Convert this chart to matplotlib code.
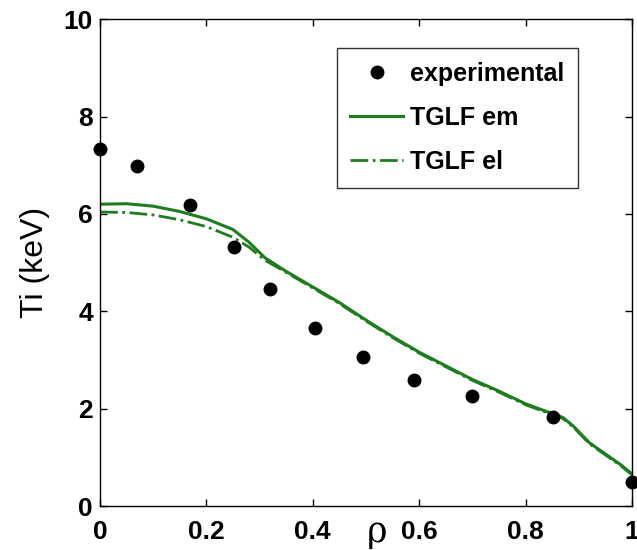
''' Ti PROFILE: EXPERIMENT VS TGLF '''

import matplotlib
matplotlib.use("Agg")
import matplotlib.pyplot as plt

plt.rcParams['font.family'] = ['Liberation Sans', 'DejaVu Sans']

# DATA
rho_exp = [0.0, 0.07, 0.169, 0.252, 0.32, 0.404, 0.494, 0.59, 0.70, 0.852, 1.0]
ti_exp = [7.33, 6.98, 6.18, 5.32, 4.46, 3.65, 3.06, 2.59, 2.26, 1.83, 0.49]

rho_em = [0.0, 0.05, 0.10, 0.15, 0.20, 0.25, 0.28, 0.31, 0.35, 0.40, 0.45, 0.50,
          0.55, 0.60, 0.65, 0.70, 0.75, 0.80, 0.85, 0.87, 0.89, 0.92, 0.95, 0.98, 1.0]
ti_em = [6.20, 6.21, 6.16, 6.05, 5.90, 5.68, 5.42, 5.10, 4.82, 4.50, 4.18, 3.82,
         3.48, 3.16, 2.88, 2.60, 2.36, 2.10, 1.90, 1.82, 1.64, 1.30, 1.07, 0.84, 0.66]

rho_el = [0.0, 0.05, 0.10, 0.15, 0.20, 0.25, 0.28, 0.31, 0.35, 0.40, 0.45, 0.50,
          0.55, 0.60, 0.65, 0.70, 0.75, 0.80, 0.85, 0.87, 0.89, 0.92, 0.95, 0.98, 1.0]
ti_el = [6.04, 6.03, 5.98, 5.88, 5.74, 5.52, 5.32, 5.05, 4.80, 4.48, 4.16, 3.80,
         3.46, 3.14, 2.86, 2.58, 2.34, 2.08, 1.88, 1.80, 1.62, 1.28, 1.05, 0.82, 0.64]

xticks = [0, 0.2, 0.4, 0.6, 0.8, 1]
xticklabels = ['0', '0.2', '0.4', '0.6', '0.8', '1']
yticks = [0, 2, 4, 6, 8, 10]
yticklabels = ['0', '2', '4', '6', '8', '10']

green = '#1e7d1e'

# FIGURE
fig = plt.figure(figsize=(6.37, 5.5), dpi=100)
ax = fig.add_axes([0.157, 0.08, 0.835, 0.885])

ax.plot(rho_exp, ti_exp, 'o', color='black', markersize=9, label='experimental',
        clip_on=False, zorder=5)
ax.plot(rho_em, ti_em, '-', color=green, linewidth=2.2, label='TGLF em')
ax.plot(rho_el, ti_el, '-.', color=green, linewidth=2.0, label='TGLF el')

ax.set_xlim(0, 1)
ax.set_ylim(0, 10)
ax.set_xticks(xticks)
ax.set_xticklabels(xticklabels, fontsize=19, fontweight='bold')
ax.set_yticks(yticks)
ax.set_yticklabels(yticklabels, fontsize=19, fontweight='bold')
ax.tick_params(direction='in', length=5, width=1, top=True, right=True)
ax.tick_params(axis='x', pad=10)
ax.tick_params(axis='y', pad=5)
for sp in ax.spines.values():
    sp.set_linewidth(1)

ax.set_ylabel('Ti (keV)', fontsize=23, labelpad=10)
fig.text(377 / 637, 1 - 532 / 550, 'ρ', fontsize=25, family='DejaVu Serif',
         ha='center', va='center')

# LEGEND
leg = ax.legend(loc='upper left', bbox_to_anchor=(0.445, 0.94),
                prop={'weight': 'bold', 'size': 18}, frameon=True, fancybox=False,
                edgecolor='black', handlelength=2.1, handletextpad=0.3,
                labelspacing=0.8, borderpad=0.55, borderaxespad=0)
leg.get_frame().set_linewidth(1)

plt.savefig('out.png', dpi=100)
plt.close()
